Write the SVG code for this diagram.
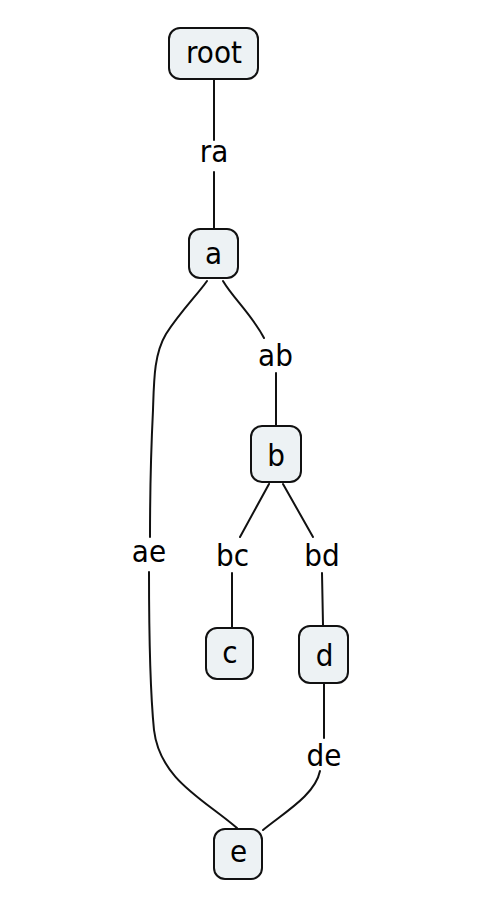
<svg xmlns="http://www.w3.org/2000/svg" width="486" height="912" viewBox="0 0 486 912">
  <style>
    .node rect { fill: #edf2f4; stroke: #111; stroke-width: 2; }
    text { font-family: "DejaVu Sans Condensed", "DejaVu Sans", sans-serif; font-stretch: condensed; font-size: 31px; fill: #000; text-anchor: middle; }
    .edge { fill: none; stroke: #111; stroke-width: 2; stroke-linecap: round; }
  </style>
  <rect width="486" height="912" fill="#fff"/>

  <!-- connectors, broken where their labels sit -->
  <g id="edges">
    <g id="edge-ra">
      <path class="edge" d="M214 80 L214 140"/>
      <path class="edge" d="M214 172 L214 228"/>
      <text x="214" y="162">ra</text>
    </g>
    <g id="edge-ab">
      <path class="edge" d="M223 281 C233 298 252 315 264 338"/>
      <path class="edge" d="M276 373 L276 425"/>
      <text x="275.5" y="366">ab</text>
    </g>
    <g id="edge-ae">
      <path class="edge" d="M207 281 C198 294 180 312 166 334 C154 354 154 380 153 410 C151 450 150 500 150 537"/>
      <path class="edge" d="M149 572 C149 640 150 690 154 730 C160 780 205 800 237 828"/>
      <text x="149" y="562">ae</text>
    </g>
    <g id="edge-bc">
      <path class="edge" d="M269 484 L240 537"/>
      <path class="edge" d="M232 573 L232 627"/>
      <text x="232.5" y="566">bc</text>
    </g>
    <g id="edge-bd">
      <path class="edge" d="M283 484 L313 537"/>
      <path class="edge" d="M322 573 L323 625"/>
      <text x="322" y="566">bd</text>
    </g>
    <g id="edge-de">
      <path class="edge" d="M324 684 L324 738"/>
      <path class="edge" d="M320 771 C315 795 285 812 263 830"/>
      <text x="324" y="766">de</text>
    </g>
  </g>

  <g id="node-root" class="node">
    <rect x="169" y="28" width="89" height="51" rx="11"/>
    <text x="214" y="63">root</text>
  </g>
  <g id="node-a" class="node">
    <rect x="189" y="229" width="49" height="49" rx="11"/>
    <text x="213.5" y="264">a</text>
  </g>
  <g id="node-b" class="node">
    <rect x="251" y="426" width="50" height="56" rx="11"/>
    <text x="276" y="466">b</text>
  </g>
  <g id="node-c" class="node">
    <rect x="206" y="628" width="47" height="51" rx="11"/>
    <text x="230" y="663">c</text>
  </g>
  <g id="node-d" class="node">
    <rect x="299" y="626" width="49" height="57" rx="11"/>
    <text x="324.5" y="666">d</text>
  </g>
  <g id="node-e" class="node">
    <rect x="214" y="829" width="48" height="50" rx="11"/>
    <text x="238.5" y="862">e</text>
  </g>
</svg>
